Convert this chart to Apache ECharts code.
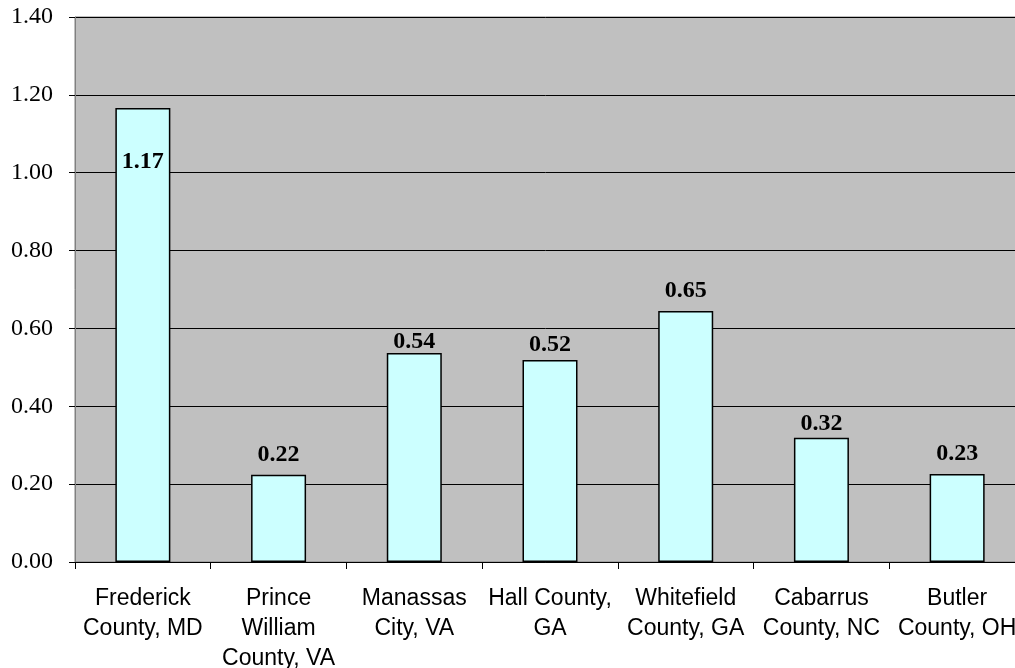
<!DOCTYPE html>
<html>
<head>
<meta charset="utf-8">
<script src="https://cdn.jsdelivr.net/npm/echarts@6/dist/echarts.min.js"></script>
<style>
html,body{margin:0;padding:0;background:#fff;overflow:hidden;}
#chart{width:1015px;height:668px;}
</style>
</head>
<body>
<div id="chart"></div>
<script>
const categories = ['Frederick County, MD','Prince William County, VA','Manassas City, VA','Hall County, GA','Whitefield County, GA','Cabarrus County, NC','Butler County, OH'];
const tickLabels = ['Frederick\nCounty, MD','Prince\nWilliam\nCounty, VA','Manassas\nCity, VA','Hall County,\nGA','Whitefield\nCounty, GA','Cabarrus\nCounty, NC','Butler\nCounty, OH'];
const values = [1.166, 0.224, 0.537, 0.519, 0.645, 0.319, 0.226];
const yTicks = [0, 0.2, 0.4, 0.6, 0.8, 1.0, 1.2, 1.4];
const labelGaps = [null, 8, -1, 3, 8, 2, 8];

const chart = echarts.init(document.getElementById('chart'), null, {renderer:'canvas'});
chart.setOption({
  animation:false,
  grid:{left:75, right:-10, top:17, bottom:106, outerBoundsMode:'none', containLabel:false, show:true, backgroundColor:'#C0C0C0', borderColor:'#808080', borderWidth:1},
  xAxis:{
    type:'category',
    data:categories,
    axisLine:{show:true, lineStyle:{color:'#000', width:1}},
    axisTick:{show:true, length:7, lineStyle:{color:'#000'}},
    axisLabel:{
      interval:0, margin:22, color:'#000',
      fontFamily:'Liberation Sans, Arial, sans-serif', fontSize:23, lineHeight:30,
      formatter:function(v){ return tickLabels[categories.indexOf(v)]; }
    }
  },
  yAxis:{
    type:'value', min:yTicks[0], max:yTicks[yTicks.length-1], interval:0.2,
    axisLine:{show:true, lineStyle:{color:'#808080'}},
    axisTick:{show:true, length:6, lineStyle:{color:'#000'}},
    splitLine:{show:true, lineStyle:{color:'#000', width:1}},
    axisLabel:{
      color:'#000', margin:22, fontFamily:'Liberation Serif, Times New Roman, serif', fontSize:24,
      formatter:function(v){ return v.toFixed(2); }
    }
  },
  series:[{
    type:'bar',
    barWidth:55,
    data:values.map(function(v, i){
      const d = {value:v};
      if (i === 0) d.label = {position:'insideTop', distance:42};
      else d.label = {position:'top', distance:labelGaps[i]};
      return d;
    }),
    itemStyle:{color:'#CCFFFF', borderColor:'#000', borderWidth:1.5},
    label:{
      show:true, position:'top', distance:8, color:'#000',
      fontFamily:'Liberation Serif, Times New Roman, serif', fontWeight:'bold', fontSize:24,
      formatter:function(p){ return p.value.toFixed(2); }
    }
  }]
});
</script>
</body>
</html>
